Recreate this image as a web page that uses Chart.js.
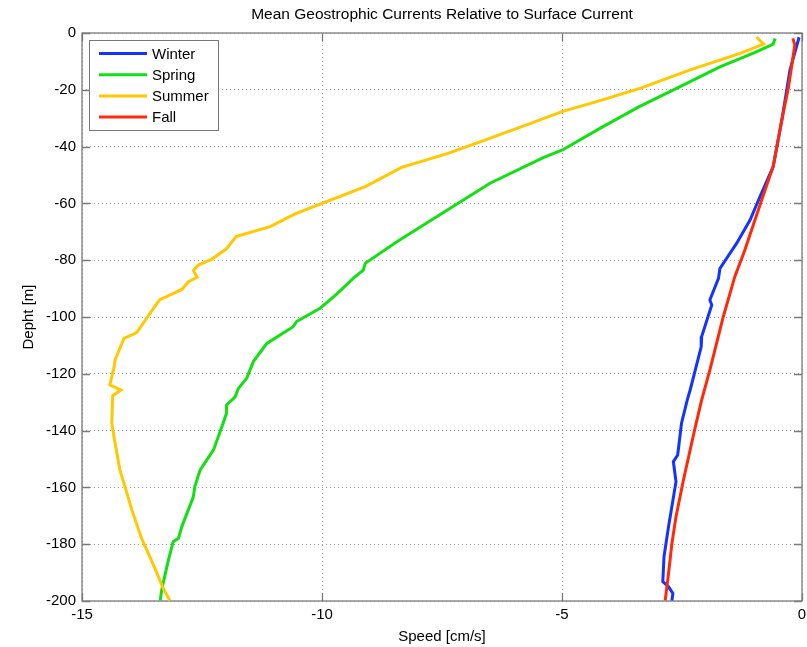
<!DOCTYPE html>
<html>
<head>
<meta charset="utf-8">
<script src="https://cdn.jsdelivr.net/npm/chart.js@4/dist/chart.umd.min.js"></script>
<style>
  html, body { margin: 0; padding: 0; background: #fff; }
  #geo { display: block; }
</style>
</head>
<body>
<canvas id="geo" width="807" height="647"></canvas>
<script>
var chartTitle = "Mean Geostrophic Currents Relative to Surface Current";
var xTitle = "Speed [cm/s]";
var yTitle = "Depht [m]";
var seasons = ["Winter", "Spring", "Summer", "Fall"];
var seasonColors = ["#1433ff", "#12e012", "#ffc800", "#ff2a0a"];

// speed [cm/s] and depth [m]
var winterSpeed = [-0.06, -0.25, -0.42, -0.6, -0.875, -1.08, -1.36, -1.71, -1.74, -1.92, -1.88, -2.09, -2.1, -2.33, -2.39, -2.51, -2.59, -2.68, -2.625, -2.78, -2.875, -2.9, -2.78, -2.69, -2.71];
var winterDepth = [-1.5, -13, -30.6, -47, -57.6, -65.8, -74, -82.9, -86.4, -94, -95.8, -106.9, -110.5, -125.7, -129.2, -137.4, -148.6, -150.9, -158, -173.8, -184.4, -193.2, -195, -197.3, -199.8];

var springSpeed = [-0.56, -0.6, -1.0, -1.71, -2.54, -3.4, -4.21, -4.99, -5.39, -6.5, -7.33, -8.44, -9.10, -9.14, -9.35, -9.7, -10.04, -10.53, -10.6, -11.15, -11.43, -11.57, -11.74, -11.81, -11.99, -11.99, -12.06, -12.26, -12.54, -12.65, -12.68, -12.92, -12.99, -13.1, -13.2, -13.27, -13.34, -13.37];
var springDepth = [-1.9, -3.9, -7, -11.9, -18.9, -26, -33.6, -41.2, -43.9, -52.9, -61.7, -73.5, -81.1, -83.5, -86.4, -92, -96.9, -101.6, -103.4, -109.3, -115.7, -121.6, -125.1, -128.1, -131, -133.9, -137.4, -146.8, -153.9, -159.7, -163.3, -173.8, -177.9, -179.1, -185.6, -190.8, -196.1, -199.8];

var summerSpeed = [-0.95, -0.80, -1.29, -2.33, -3.375, -4.21, -5.0, -5.71, -6.78, -7.375, -8.34, -9.10, -10.0, -10.56, -11.08, -11.79, -11.99, -12.30, -12.58, -12.68, -12.6, -12.78, -12.92, -13.37, -13.44, -13.86, -14.125, -14.31, -14.33, -14.42, -14.19, -14.36, -14.38, -14.31, -14.21, -14.1, -13.96, -13.76, -13.48, -13.31, -13.17];
var summerDepth = [-1.4, -3.9, -7.2, -13, -19.5, -23.8, -27.7, -32.2, -38.8, -42.4, -47.3, -54.1, -60, -63.7, -68.2, -71.7, -76, -79.7, -81.7, -83.7, -86, -87.6, -90.3, -93.8, -95.2, -105.5, -107.5, -115.1, -117.5, -123.9, -125.7, -127.7, -137.4, -144.5, -153.9, -160, -168, -177.9, -188.5, -195.5, -199.8];

var fallSpeed = [-0.19, -0.15, -0.28, -0.42, -0.6, -0.84, -1.19, -1.4, -1.64, -1.92, -2.09, -2.23, -2.47, -2.625, -2.71, -2.78, -2.85];
var fallDepth = [-1.9, -4.2, -18.9, -30.6, -47, -58.8, -76.4, -85.8, -99.9, -118.7, -129.2, -139.2, -157.4, -170.3, -179.7, -190.2, -199.8];

var speedSets = [winterSpeed, springSpeed, summerSpeed, fallSpeed];
var depthSets = [winterDepth, springDepth, summerDepth, fallDepth];

var font = "'Liberation Sans', Arial, Helvetica, sans-serif";

var datasets = seasons.map(function(name, i) {
    return {
        label: name,
        data: speedSets[i].map(function(s, k) { return { x: s, y: depthSets[i][k] }; }),
        borderColor: seasonColors[i],
        backgroundColor: seasonColors[i],
        borderWidth: 3,
        pointRadius: 0,
        showLine: true,
        tension: 0,
        order: 3 - i
    };
});

// axes box, inward ticks, title and legend in the matlab style
var matlabFrame = {
    id: 'matlabFrame',
    beforeDatasetsDraw: function(chart) {
        var ctx = chart.ctx;
        var a = chart.chartArea;
        var xs = chart.scales.x, ys = chart.scales.y;
        ctx.save();
        ctx.strokeStyle = '#7a7a7a';
        ctx.lineWidth = 1.3;
        ctx.strokeRect(a.left, a.top, a.right - a.left, a.bottom - a.top);
        ctx.beginPath();
        xs.ticks.forEach(function(t) {
            var px = Math.round(xs.getPixelForValue(t.value)) + 0.5;
            ctx.moveTo(px, a.bottom); ctx.lineTo(px, a.bottom - 8);
            ctx.moveTo(px, a.top); ctx.lineTo(px, a.top + 8);
        });
        ys.ticks.forEach(function(t) {
            var py = Math.round(ys.getPixelForValue(t.value)) + 0.5;
            ctx.moveTo(a.left, py); ctx.lineTo(a.left + 8, py);
            ctx.moveTo(a.right, py); ctx.lineTo(a.right - 8, py);
        });
        ctx.stroke();
        ctx.restore();
    },
    afterDraw: function(chart) {
        var ctx = chart.ctx;
        var a = chart.chartArea;
        ctx.save();
        ctx.fillStyle = '#000';
        ctx.font = '15.5px ' + font;
        ctx.textAlign = 'center';
        ctx.textBaseline = 'middle';
        ctx.fillText(chartTitle, (a.left + a.right) / 2, 15);

        // legend
        var bx = 89.5, by = 40.5, bw = 129, bh = 90;
        ctx.fillStyle = '#fff';
        ctx.fillRect(bx, by, bw, bh);
        ctx.strokeStyle = '#777';
        ctx.lineWidth = 1;
        ctx.strokeRect(bx, by, bw, bh);
        ctx.font = '15px ' + font;
        ctx.textAlign = 'left';
        chart.data.datasets.forEach(function(ds, i) {
            var y = 53.5 + i * 21.2;
            ctx.strokeStyle = ds.borderColor;
            ctx.lineWidth = 3;
            ctx.beginPath();
            ctx.moveTo(99, y); ctx.lineTo(147, y);
            ctx.stroke();
            ctx.fillStyle = '#000';
            ctx.fillText(ds.label, 152, y + 1);
        });
        ctx.restore();
    }
};

var ctx = document.getElementById('geo').getContext('2d');
var chart = new Chart(ctx, {
    type: 'scatter',
    data: { datasets: datasets },
    options: {
        responsive: false,
        animation: false,
        layout: { padding: { top: 33, right: 5, left: 0, bottom: 0 } },
        plugins: {
            legend: { display: false },
            tooltip: { enabled: false },
            title: { display: false }
        },
        scales: {
            x: {
                type: 'linear',
                min: -15,
                max: 0,
                ticks: { stepSize: 5, color: '#000', padding: 5, font: { family: font, size: 15 } },
                grid: { color: '#a0a0a0', lineWidth: 1, drawTicks: false },
                border: { display: false, dash: [1, 3] },
                title: { display: true, text: xTitle, color: '#000', font: { family: font, size: 15 }, padding: { top: 0, bottom: 1 } },
                afterFit: function(scale) {
                    scale.height = 46;
                    scale.paddingLeft = 0;
                    scale.paddingRight = 0;
                }
            },
            y: {
                type: 'linear',
                min: -200,
                max: 0,
                ticks: { stepSize: 20, color: '#000', padding: 6, font: { family: font, size: 15 } },
                grid: { color: '#a0a0a0', lineWidth: 1, drawTicks: false },
                border: { display: false, dash: [1, 3] },
                title: { display: true, text: yTitle, color: '#000', font: { family: font, size: 15 }, padding: { top: 20, bottom: 0 } },
                afterFit: function(scale) {
                    scale.width = 82;
                    scale.paddingTop = 0;
                    scale.paddingBottom = 0;
                }
            }
        }
    },
    plugins: [matlabFrame]
});
</script>
</body>
</html>
